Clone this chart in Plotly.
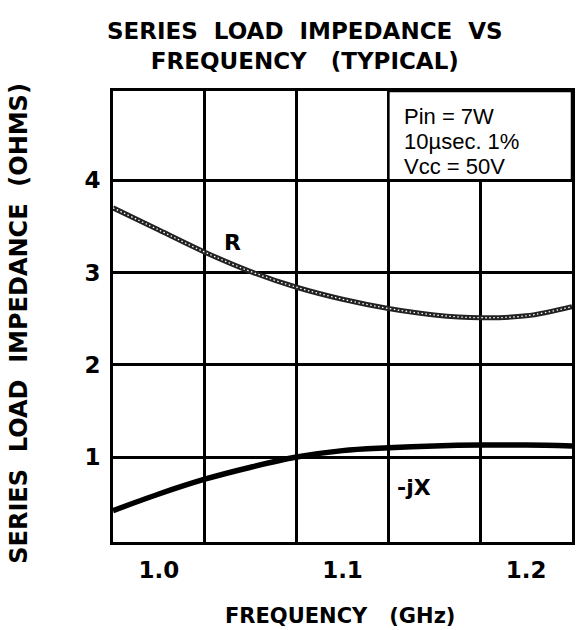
import plotly.graph_objects as go

# Data
freq_ghz = [0.975, 1.0, 1.025, 1.05, 1.075, 1.1, 1.125, 1.15, 1.175, 1.2, 1.225]
r_ohms = [3.70, 3.46, 3.22, 3.01, 2.84, 2.71, 2.61, 2.54, 2.51, 2.53, 2.63]
jx_ohms = [0.42, 0.60, 0.76, 0.89, 1.00, 1.07, 1.10, 1.12, 1.13, 1.13, 1.12]

x_tick_vals = [1.0, 1.1, 1.2]
x_tick_text = ["1.0", "1.1", "1.2"]
x_grid_vals = [1.025, 1.075, 1.125, 1.175]
y_tick_vals = [1, 2, 3, 4]
y_tick_text = ["1", "2", "3", "4"]
condition_lines = ["Pin = 7W", "10µsec. 1%", "Vcc = 50V"]

X_RANGE = [0.975, 1.225]
Y_RANGE = [0.08, 4.966]

BOLD = "DejaVu Sans"
NB = "\u00a0"

fig = go.Figure()

# R curve: beaded look (dark line with dotted white core)
fig.add_trace(go.Scatter(x=freq_ghz, y=r_ohms, mode="lines", line=dict(color="#222", width=5, shape="spline"),
                         hoverinfo="skip", showlegend=False))
fig.add_trace(go.Scatter(x=freq_ghz, y=r_ohms, mode="lines",
                         line=dict(color="white", width=1.3, shape="spline", dash="1.5px,2.5px"),
                         hoverinfo="skip", showlegend=False))
# -jX curve
fig.add_trace(go.Scatter(x=freq_ghz, y=jx_ohms, mode="lines", line=dict(color="black", width=5.5, shape="spline"),
                         hoverinfo="skip", showlegend=False))

# Condition box (covers grid inside)
fig.add_shape(type="rect", xref="x", yref="y", x0=1.125, x1=X_RANGE[1], y0=4, y1=Y_RANGE[1],
              fillcolor="white", line=dict(color="black", width=2.5), layer="between")

for i, line in enumerate(condition_lines):
    fig.add_annotation(xref="paper", yref="paper", x=0.630, y=(542 - (117 + 24.5 * i)) / 451,
                       xanchor="left", yanchor="middle", align="left", showarrow=False,
                       text=line, font=dict(family="Liberation Sans", size=22, color="black"))

fig.add_annotation(x=1.040, y=3.32, text="R", showarrow=False,
                   font=dict(family=BOLD, size=22, color="black", weight="bold"))
fig.add_annotation(x=1.139, y=0.675, text="-jX", showarrow=False,
                   font=dict(family=BOLD, size=22, color="black", weight="bold"))

# Titles
fig.add_annotation(xref="paper", yref="paper", x=0.418, y=1.100, xanchor="center", yanchor="middle",
                   showarrow=False, align="center",
                   text=f"SERIES{NB}{NB}LOAD{NB}{NB}IMPEDANCE{NB}{NB}VS<br>FREQUENCY{NB}{NB}{NB}(TYPICAL)",
                   font=dict(family=BOLD, size=23, color="black", weight="bold"))
fig.add_annotation(xref="paper", yref="paper", x=0.494, y=-0.164, xanchor="center", yanchor="middle",
                   showarrow=False,
                   text=f"FREQUENCY{NB}{NB}{NB}(GHz)",
                   font=dict(family=BOLD, size=21, color="black", weight="bold"))
fig.add_annotation(xref="paper", yref="paper", x=-0.205, y=0.486, xanchor="center", yanchor="middle",
                   showarrow=False, textangle=-90,
                   text=f"SERIES{NB}{NB}LOAD{NB}{NB}IMPEDANCE{NB}{NB}(OHMS)",
                   font=dict(family=BOLD, size=24, color="black", weight="bold"))

fig.update_xaxes(range=X_RANGE, tickmode="array", tickvals=x_tick_vals, ticktext=x_tick_text,
                 showgrid=False, zeroline=False, ticks="", ticklabelstandoff=5,
                 tickfont=dict(family=BOLD, size=23, color="black", weight="bold"),
                 showline=True, linecolor="black", linewidth=3, mirror=True,
                 minor=dict(tickmode="array", tickvals=x_grid_vals, showgrid=True,
                            gridcolor="black", gridwidth=2.5, ticks=""))
fig.update_yaxes(range=Y_RANGE, tickmode="array", tickvals=y_tick_vals, ticktext=y_tick_text,
                 showgrid=True, gridcolor="black", gridwidth=2.5, zeroline=False, ticks="",
                 ticklabelstandoff=5,
                 tickfont=dict(family=BOLD, size=23, color="black", weight="bold"),
                 showline=True, linecolor="black", linewidth=3, mirror=True)

fig.update_layout(width=577, height=630, margin=dict(l=113, r=2, t=91, b=88),
                  plot_bgcolor="white", paper_bgcolor="white", showlegend=False)

fig.write_html("out.html", config={"displayModeBar": False},
               post_script="document.body.style.margin='0px';document.body.style.overflow='hidden';")
